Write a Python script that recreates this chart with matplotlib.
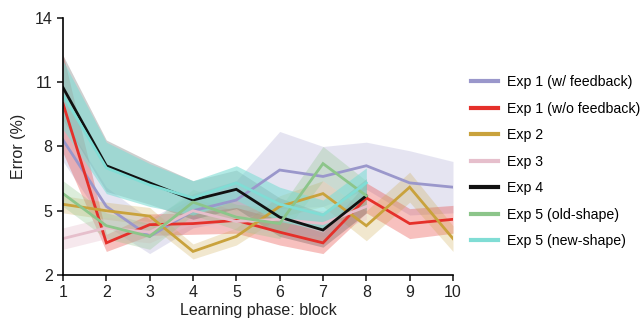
import matplotlib
matplotlib.use("Agg")
import matplotlib.pyplot as plt
import numpy as np

plt.rcParams['font.family'] = ['Liberation Sans', 'DejaVu Sans']

blocks = [1, 2, 3, 4, 5, 6, 7, 8, 9, 10]

labels = ["Exp 1 (w/ feedback)", "Exp 1 (w/o feedback)", "Exp 2", "Exp 3",
          "Exp 4", "Exp 5 (old-shape)", "Exp 5 (new-shape)"]
colors = ["#9a97cb", "#e5302a", "#c9a23c", "#e6bfcc", "#111111", "#8cc58a", "#80ddd5"]

exp1_fb = [8.3, 5.2, 3.8, 5.0, 5.5, 6.9, 6.6, 7.1, 6.3, 6.1]
exp1_fb_err = [1.0, 0.9, 0.8, 0.8, 0.9, 1.8, 1.4, 1.1, 1.5, 1.2]
exp1_nofb = [10.0, 3.5, 4.35, 4.4, 4.55, 4.0, 3.5, 5.6, 4.4, 4.6]
exp1_nofb_err = [2.3, 0.4, 0.5, 0.5, 0.6, 0.6, 0.5, 0.7, 0.7, 0.65]
exp2 = [5.3, 5.0, 4.75, 3.1, 3.8, 5.2, 5.8, 4.3, 6.1, 3.7]
exp2_err = [0.4, 0.4, 0.4, 0.35, 0.4, 0.5, 0.6, 0.7, 0.7, 0.6]
exp3 = [3.7, 4.2, 4.0, 5.0, 4.5, 4.6, 4.4, 5.2]
exp3_err = [0.5, 0.5, 0.5, 0.6, 0.5, 0.6, 0.6, 0.6]
exp4 = [10.75, 7.1, 6.3, 5.5, 6.0, 4.7, 4.1, 5.7]
exp4_err = [1.5, 1.2, 1.0, 0.9, 0.9, 0.9, 0.8, 0.8]
exp5_old = [5.8, 4.3, 3.8, 5.4, 4.7, 4.4, 7.2, 5.7]
exp5_old_err = [0.6, 0.6, 0.6, 0.6, 0.6, 0.7, 0.8, 0.7]
exp5_new = [10.4, 7.0, 6.2, 5.6, 6.3, 5.3, 4.8, 6.3]
exp5_new_err = [1.6, 1.2, 1.0, 0.8, 0.8, 0.8, 0.7, 0.7]

series = [(exp1_fb, exp1_fb_err), (exp1_nofb, exp1_nofb_err), (exp2, exp2_err),
          (exp3, exp3_err), (exp4, exp4_err), (exp5_old, exp5_old_err),
          (exp5_new, exp5_new_err)]

fig = plt.figure(figsize=(6.41, 3.20), dpi=100)
ax = fig.add_axes([0.0983, 0.1406, 0.6084, 0.8034])

band_alpha = [0.25, 0.3, 0.25, 0.35, 0.2, 0.3, 0.6]
for (vals, err), col, lab, a in zip(series, colors, labels, band_alpha):
    x = np.array(blocks[:len(vals)])
    v = np.array(vals)
    e = np.array(err)
    ax.fill_between(x, v - e, v + e, color=col, alpha=a, linewidth=0)
for (vals, err), col, lab in zip(series, colors, labels):
    x = blocks[:len(vals)]
    ax.plot(x, vals, color=col, lw=2.0, label=lab, solid_joinstyle='miter')

ax.set_xlim(1, 10)
ax.set_ylim(2, 14)
ax.set_xticks(blocks)
ax.set_yticks([2, 5, 8, 11, 14])
ax.spines['top'].set_visible(False)
ax.spines['right'].set_visible(False)
for s in ['left', 'bottom']:
    ax.spines[s].set_linewidth(1.2)
ax.tick_params(axis='both', labelsize=11.5, width=1.2, length=4, color='#222222', labelcolor='#222222')
ax.set_xlabel("Learning phase: block", fontsize=11.5, color='#222222', labelpad=2)
ax.set_ylabel("Error (%)", fontsize=11.5, color='#222222', labelpad=6)

leg = ax.legend(loc='upper left', bbox_to_anchor=(1.02, 0.815), frameon=False,
                fontsize=10.2, handlelength=1.9, labelspacing=0.88, handletextpad=0.65,
                borderaxespad=0.3)
for h in leg.get_lines():
    h.set_linewidth(3)

fig.savefig("out.png", dpi=100)
